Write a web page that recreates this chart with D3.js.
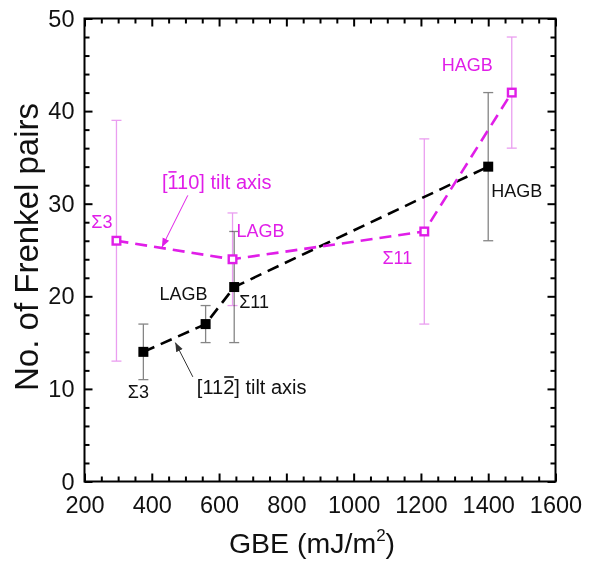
<!DOCTYPE html>
<html>
<head>
<meta charset="utf-8">
<script src="https://cdn.jsdelivr.net/npm/d3@7"></script>
<style>
  html, body { margin: 0; padding: 0; background: #fff; }
  svg { display: block; font-family: "Liberation Sans", Arial, sans-serif; }
</style>
</head>
<body>
<svg id="chart" width="598" height="564"></svg>
<script>
// [11-2] tilt axis series (black, filled squares)
const blackGBE = [375, 560, 645, 1400];
const blackFP = [14, 17, 21, 34];
const blackErr = [3, 2, 6, 8];

// [-110] tilt axis series (magenta, open squares)
const magGBE = [295, 640, 1210, 1470];
const magFP = [26, 24, 27, 42];
const magErr = [13, 5, 10, 6];

// axis ticks
const xMajor = [200, 400, 600, 800, 1000, 1200, 1400, 1600];
const yMajor = [0, 10, 20, 30, 40, 50];

// point labels: point index, text, offset, anchor
const magLabels = [
  { i: 0, text: "Σ3", dx: -4, dy: -13, anchor: "end" },
  { i: 1, text: "LAGB", dx: 4, dy: -22, anchor: "start" },
  { i: 2, text: "Σ11", dx: -12, dy: 33, anchor: "end" },
  { i: 3, text: "HAGB", dx: -19, dy: -22, anchor: "end" }
];
const blackLabels = [
  { i: 0, text: "Σ3", dx: -5, dy: 46, anchor: "middle" },
  { i: 1, text: "LAGB", dx: 2, dy: -24, anchor: "end" },
  { i: 2, text: "Σ11", dx: 5, dy: 21, anchor: "start" },
  { i: 3, text: "HAGB", dx: 3, dy: 30, anchor: "start" }
];

const MAG = "#e01ee8";
const MAG_ERR = "#ea9ef0";
const BLK_ERR = "#858585";

const svg = d3.select("#chart");
const L = 84.5, R = 555.5, T = 18.5, B = 481.5;

const x = d3.scaleLinear().domain([200, 1600]).range([L, R]);
const y = d3.scaleLinear().domain([0, 50]).range([B, T]);

const xMinor = d3.range(200, 1601, 50).filter(v => !xMajor.includes(v));
const yMinor = d3.range(0, 51, 2).filter(v => !yMajor.includes(v));

// ---- axes with inward ticks on all four sides ----
function styleAxis(g) {
  g.select(".domain").remove();
  g.selectAll(".tick line").attr("stroke", "#000").attr("stroke-width", 2);
  g.selectAll(".tick text").attr("fill", "#111").attr("font-size", 23.5)
    .attr("font-family", "Liberation Sans, Arial, sans-serif");
}

svg.append("g").attr("transform", `translate(0,${B})`)
  .call(d3.axisBottom(x).tickValues(xMajor).tickSize(-8).tickPadding(15).tickFormat(d3.format("d")))
  .call(styleAxis);
svg.append("g").attr("transform", `translate(0,${B})`)
  .call(d3.axisBottom(x).tickValues(xMinor).tickSize(-5).tickFormat(""))
  .call(styleAxis);
svg.append("g").attr("transform", `translate(0,${T})`)
  .call(d3.axisTop(x).tickValues(xMajor).tickSize(-8).tickFormat(""))
  .call(styleAxis);
svg.append("g").attr("transform", `translate(0,${T})`)
  .call(d3.axisTop(x).tickValues(xMinor).tickSize(-5).tickFormat(""))
  .call(styleAxis);

svg.append("g").attr("transform", `translate(${L},0)`)
  .call(d3.axisLeft(y).tickValues(yMajor).tickSize(-8).tickPadding(10).tickFormat(d3.format("d")))
  .call(styleAxis);
svg.append("g").attr("transform", `translate(${L},0)`)
  .call(d3.axisLeft(y).tickValues(yMinor).tickSize(-5).tickFormat(""))
  .call(styleAxis);
svg.append("g").attr("transform", `translate(${R},0)`)
  .call(d3.axisRight(y).tickValues(yMajor).tickSize(-8).tickFormat(""))
  .call(styleAxis);
svg.append("g").attr("transform", `translate(${R},0)`)
  .call(d3.axisRight(y).tickValues(yMinor).tickSize(-5).tickFormat(""))
  .call(styleAxis);

// frame
svg.append("rect").attr("x", L).attr("y", T).attr("width", R - L).attr("height", B - T)
  .attr("fill", "none").attr("stroke", "#000").attr("stroke-width", 2);

// axis titles
const xt = svg.append("text").attr("x", 312).attr("y", 553).attr("text-anchor", "middle")
  .attr("font-size", 28.5).attr("fill", "#111");
xt.append("tspan").text("GBE (mJ/m");
xt.append("tspan").attr("font-size", 17).attr("dy", -12).text("2");
xt.append("tspan").attr("dy", 12).text(")");

svg.append("text").attr("transform", "translate(38,247) rotate(-90)")
  .attr("text-anchor", "middle").attr("font-size", 33).attr("fill", "#111")
  .text("No. of Frenkel pairs");

// ---- series ----
const magPts = magGBE.map((g, i) => ({ g, v: magFP[i], e: magErr[i] }));
const blkPts = blackGBE.map((g, i) => ({ g, v: blackFP[i], e: blackErr[i] }));

function errorBars(pts, color) {
  const gg = svg.append("g").attr("stroke", color).attr("stroke-width", 1.3).attr("fill", "none");
  pts.forEach(p => {
    const cx = x(p.g), y1 = y(p.v + p.e), y2 = y(p.v - p.e);
    gg.append("line").attr("x1", cx).attr("x2", cx).attr("y1", y1).attr("y2", y2);
    gg.append("line").attr("x1", cx - 5).attr("x2", cx + 5).attr("y1", y1).attr("y2", y1);
    gg.append("line").attr("x1", cx - 5).attr("x2", cx + 5).attr("y1", y2).attr("y2", y2);
  });
  return gg;
}

errorBars(magPts, MAG_ERR);
errorBars(blkPts, BLK_ERR).style("mix-blend-mode", "multiply");

const line = d3.line().x(d => x(d.g)).y(d => y(d.v));

svg.append("path").datum(blkPts).attr("d", line)
  .attr("fill", "none").attr("stroke", "#000").attr("stroke-width", 2.6)
  .attr("stroke-dasharray", "12,7");
svg.append("path").datum(magPts).attr("d", line)
  .attr("fill", "none").attr("stroke", MAG).attr("stroke-width", 2.6)
  .attr("stroke-dasharray", "12,7");

const S = 10;
svg.append("g").selectAll("rect").data(blkPts).join("rect")
  .attr("x", d => x(d.g) - S / 2).attr("y", d => y(d.v) - S / 2)
  .attr("width", S).attr("height", S).attr("fill", "#000");
svg.append("g").selectAll("rect").data(magPts).join("rect")
  .attr("x", d => x(d.g) - (S - 2.4) / 2).attr("y", d => y(d.v) - (S - 2.4) / 2)
  .attr("width", S - 2.4).attr("height", S - 2.4)
  .attr("fill", "#fff").attr("stroke", MAG).attr("stroke-width", 2.4);

// ---- point labels ----
function pointLabels(labels, pts, color) {
  svg.append("g").selectAll("text").data(labels).join("text")
    .attr("x", d => x(pts[d.i].g) + d.dx)
    .attr("y", d => y(pts[d.i].v) + d.dy)
    .attr("text-anchor", d => d.anchor)
    .attr("font-size", 18).attr("fill", color)
    .text(d => d.text);
}
pointLabels(magLabels, magPts, MAG);
pointLabels(blackLabels, blkPts, "#111");

// ---- tilt-axis annotations with arrows ----
const defs = svg.append("defs");
function arrowHead(id, color) {
  defs.append("marker").attr("id", id).attr("viewBox", "0 0 10 10")
    .attr("refX", 10).attr("refY", 5).attr("markerWidth", 9).attr("markerHeight", 9)
    .attr("markerUnits", "userSpaceOnUse").attr("orient", "auto")
    .append("path").attr("d", "M0,1 L10,5 L0,9 Z").attr("fill", color);
}
arrowHead("ahMag", MAG);
arrowHead("ahBlk", "#333");

// text start (GBE, FP), overlined character index, arrow tail and tip in data units
const tiltNotes = [
  { parts: ["[", "1", "10] tilt axis"], bar: 1, tx: 430, ty: 31.6, color: MAG, lineColor: MAG, marker: "ahMag",
    from: [507, 30.9], to: [430, 25.3] },
  { parts: ["[11", "2", "] tilt axis"], bar: 3, tx: 534, ty: 9.45, color: "#111", lineColor: "#333", marker: "ahBlk",
    from: [522, 11.3], to: [470, 15.0] }
];

tiltNotes.forEach(n => {
  svg.append("line")
    .attr("x1", x(n.from[0])).attr("y1", y(n.from[1]))
    .attr("x2", x(n.to[0])).attr("y2", y(n.to[1]))
    .attr("stroke", n.lineColor).attr("stroke-width", 1)
    .attr("marker-end", `url(#${n.marker})`);
  const t = svg.append("text").attr("x", x(n.tx)).attr("y", y(n.ty))
    .attr("font-size", 20).attr("fill", n.color).text(n.parts.join(""));
  const node = t.node();
  const s = node.getStartPositionOfChar(n.bar);
  const e = node.getEndPositionOfChar(n.bar);
  const by = y(n.ty) - 17;
  svg.append("line").attr("x1", s.x + 1).attr("x2", e.x - 0.5).attr("y1", by).attr("y2", by)
    .attr("stroke", n.color).attr("stroke-width", 1.6);
});
</script>
</body>
</html>
